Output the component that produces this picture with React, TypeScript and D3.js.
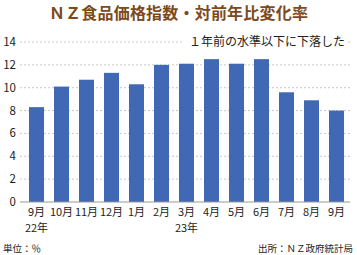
import React from "react";
import * as d3 from "d3";

const months = ["9月", "10月", "11月", "12月", "1月", "2月", "3月", "4月", "5月", "6月", "7月", "8月", "9月"];
const yearLabels = ["22年", "", "", "", "", "", "23年", "", "", "", "", "", ""];
const values = [8.3, 10.1, 10.7, 11.3, 10.3, 12.0, 12.1, 12.5, 12.1, 12.5, 9.6, 8.9, 8.0];
const yTicks = [0, 2, 4, 6, 8, 10, 12, 14];

const title = "ＮＺ食品価格指数・対前年比変化率";
const note = "１年前の水準以下に下落した";
const unitText = "単位：％";
const sourceText = "出所：ＮＺ政府統計局";

const W = 357;
const H = 255;
const FONT = "'Noto Sans CJK JP', 'Noto Sans', sans-serif";

export default function App() {
  const x = d3.scaleBand<number>().domain(d3.range(values.length)).range([24, 349]).paddingInner(0.4).paddingOuter(0.2);
  const y = d3.scaleLinear().domain([0, 14]).range([202, 42]);
  const gridX0 = 20;
  const gridX1 = 350;
  return (
    <svg width={W} height={H} style={{ position: "absolute", left: 0, top: 0, background: "#fff" }} fontFamily={FONT}>
      <rect width={W} height={H} fill="#fff" />
      <text x={W / 2} y={19} textAnchor="middle" fontSize={16} fontWeight="bold" fill="#7c4a1c" letterSpacing={0.2}>
        {title}
      </text>
      {yTicks.filter((t) => t > 0).map((t) => (
        <line key={t} x1={gridX0} x2={gridX1} y1={y(t)} y2={y(t)} stroke="#bbb" strokeWidth={0.8} strokeDasharray="2,2" />
      ))}
      {yTicks.map((t) => (
        <text key={t} x={16} y={y(t)} dy="0.35em" textAnchor="end" fontSize={11.5} fill="#222">
          {t}
        </text>
      ))}
      {values.map((v, i) => (
        <rect key={i} x={x(i)} y={y(v)} width={x.bandwidth()} height={y(0) - y(v)} fill="#4068b4" />
      ))}
      <line x1={gridX0} x2={gridX1} y1={y(0)} y2={y(0)} stroke="#999" strokeWidth={1} />
      <rect x={182} y={33} width={165} height={16} fill="#fff" />
      <text x={345} y={46} textAnchor="end" fontSize={12} fill="#222">
        {note}
      </text>
      {months.map((m, i) => (
        <text key={i} x={(x(i) as number) + x.bandwidth() / 2} y={216} textAnchor="middle" fontSize={11} fill="#222">
          {m}
        </text>
      ))}
      {yearLabels.map((m, i) =>
        m ? (
          <text key={i} x={(x(i) as number) + x.bandwidth() / 2} y={232} textAnchor="middle" fontSize={11} fill="#222">
            {m}
          </text>
        ) : null
      )}
      <text x={3} y={252} fontSize={9.5} fill="#222">
        {unitText}
      </text>
      <text x={353} y={252} textAnchor="end" fontSize={9.5} fill="#222">
        {sourceText}
      </text>
    </svg>
  );
}
